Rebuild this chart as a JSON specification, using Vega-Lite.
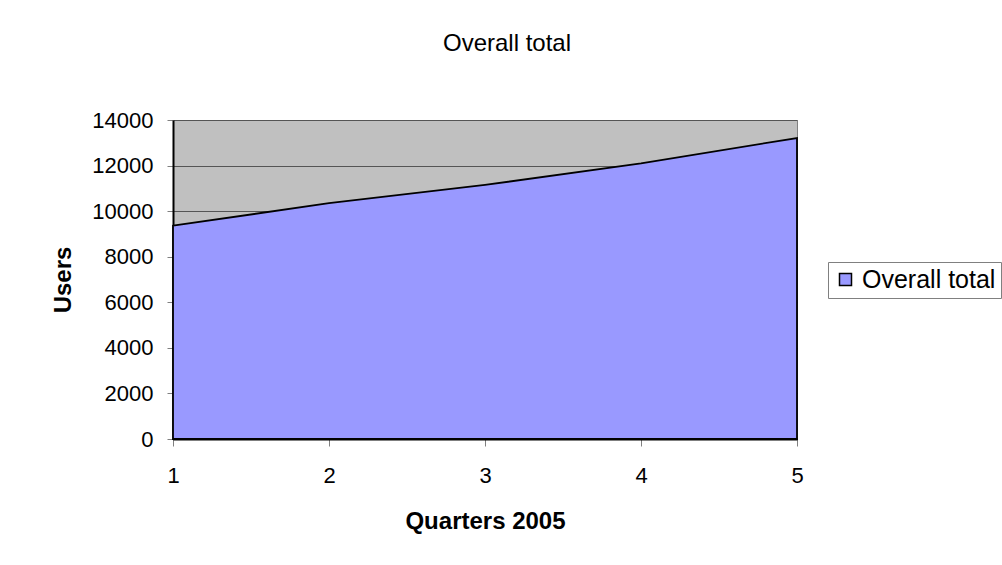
{
  "$schema": "https://vega.github.io/schema/vega-lite/v6.json",
  "width": 624,
  "height": 319,
  "autosize": {"type": "none"},
  "padding": {"left": 173, "top": 120, "right": 205, "bottom": 126},
  "background": "white",
  "config": {
    "font": "Liberation Sans",
    "view": {"fill": "#C0C0C0", "stroke": "#808080", "strokeWidth": 1}
  },
  "title": {
    "text": "Overall total",
    "font": "Liberation Sans",
    "fontSize": 24,
    "fontWeight": "normal",
    "color": "black",
    "anchor": "middle",
    "dx": 22,
    "offset": 53
  },
  "data": {
    "values": [
      {"quarter": 1, "users": 9360, "series": "Overall total"},
      {"quarter": 2, "users": 10350, "series": "Overall total"},
      {"quarter": 3, "users": 11150, "series": "Overall total"},
      {"quarter": 4, "users": 12100, "series": "Overall total"},
      {"quarter": 5, "users": 13210, "series": "Overall total"}
    ]
  },
  "layer": [
    {
      "mark": {"type": "area", "stroke": "black", "strokeWidth": 1.8, "line": false, "fillOpacity": 1},
      "encoding": {
        "x": {
          "field": "quarter",
          "type": "quantitative",
          "scale": {"domain": [1, 5], "nice": false, "zero": false},
          "axis": {
            "title": "Quarters 2005",
            "titleFont": "Liberation Sans",
            "titleFontSize": 24,
            "titleFontWeight": "bold",
            "titleColor": "black",
            "titlePadding": 23,
            "values": [1, 2, 3, 4, 5],
            "format": "d",
            "labelFont": "Liberation Sans",
            "labelFontSize": 22,
            "labelColor": "black",
            "labelPadding": 19,
            "labelFlush": false,
            "tickColor": "#808080",
            "tickSize": 7,
            "domainColor": "black",
            "domainWidth": 2,
            "grid": false
          }
        },
        "y": {
          "field": "users",
          "type": "quantitative",
          "scale": {"domain": [0, 14000], "nice": false},
          "axis": {
            "title": "Users",
            "titleFont": "Liberation Sans",
            "titleFontSize": 24,
            "titleFontWeight": "bold",
            "titleColor": "black",
            "titlePadding": 16,
            "values": [0, 2000, 4000, 6000, 8000, 10000, 12000, 14000],
            "format": "d",
            "labelFont": "Liberation Sans",
            "labelFontSize": 22,
            "labelColor": "black",
            "labelPadding": 14,
            "labelFlush": false,
            "tickColor": "#808080",
            "tickSize": 6,
            "domainColor": "black",
            "domainWidth": 2,
            "grid": true,
            "gridColor": "#555555",
            "gridWidth": 1
          }
        },
        "color": {
          "field": "series",
          "type": "nominal",
          "scale": {"range": ["#9999FF"]},
          "legend": {
            "title": null,
            "orient": "none",
            "legendX": 655,
            "legendY": 142,
            "symbolType": "square",
            "symbolSize": 144,
            "symbolStrokeColor": "black",
            "symbolStrokeWidth": 1.5,
            "symbolFillColor": "#9999FF",
            "labelFont": "Liberation Sans",
            "labelFontSize": 25,
            "labelColor": "black",
            "strokeColor": "#808080",
            "padding": 5,
            "fillColor": "white"
          }
        }
      }
    }
  ]
}
